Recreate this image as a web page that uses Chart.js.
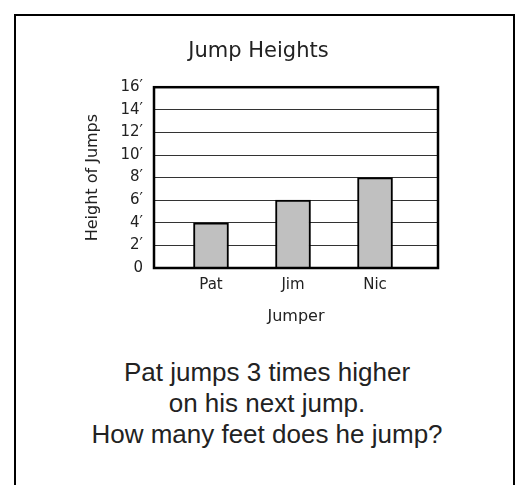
<!DOCTYPE html>
<html>
<head>
<meta charset="utf-8">
<script src="https://cdn.jsdelivr.net/npm/chart.js@4.4.0/dist/chart.umd.min.js"></script>
<style>
  html, body { margin: 0; padding: 0; background: #fff; }
  body { width: 519px; height: 485px; position: relative; overflow: hidden; }
  #frame {
    position: absolute; left: 14px; top: 14px; width: 501px; height: 500px;
    border: 2px solid #000; box-sizing: border-box;
  }
  #wrap { position: absolute; left: 0; top: 0; width: 519px; height: 340px; }
  #question {
    position: absolute; left: 0; width: 534px; top: 357px;
    text-align: center; font-family: "Liberation Sans", Arial, sans-serif;
    font-size: 26px; line-height: 31px; color: #222;
  }
</style>
</head>
<body>
<div id="frame"></div>
<div id="wrap"><canvas id="chart"></canvas></div>
<div id="question">Pat jumps 3 times higher<br>on his next jump.<br>How many feet does he jump?</div>
<script>
// Chart data
const jumpers = ["Pat", "Jim", "Nic"]
const heights = [4, 6, 8]
const yTicks = [0, 2, 4, 6, 8, 10, 12, 14, 16]

const textColor = "#222"
const font = "'DejaVu Sans', Verdana, sans-serif"

// Draw the heavy box around the plot area
const plotBox = {
  id: "plotBox",
  afterDraw(chart) {
    const { ctx, chartArea: a } = chart
    ctx.save()
    ctx.strokeStyle = "#000"
    ctx.lineWidth = 2.5
    ctx.strokeRect(a.left, a.top, a.right - a.left, a.bottom - a.top)
    ctx.restore()
  },
}

const ctx = document.getElementById("chart").getContext("2d")

new Chart(ctx, {
  type: "bar",
  data: {
    datasets: [
      {
        data: heights.map((h, i) => ({ x: i + 1, y: h })),
        backgroundColor: "#c0c0c0",
        borderColor: "#000",
        borderWidth: 2,
        barThickness: 35,
      },
    ],
  },
  options: {
    responsive: true,
    maintainAspectRatio: false,
    animation: false,
    layout: { padding: { left: 79, right: 81, top: 39, bottom: 8 } },
    plugins: {
      legend: { display: false },
      tooltip: { enabled: false },
      title: {
        display: true,
        text: "Jump Heights",
        color: textColor,
        font: { family: font, size: 21, weight: "normal" },
        padding: { top: 0, bottom: 23 },
      },
    },
    scales: {
      x: {
        type: "linear",
        offset: false,
        min: 0.305,
        max: 3.768,
        afterBuildTicks: (scale) => {
          scale.ticks = jumpers.map((_, i) => ({ value: i + 1 }))
        },
        afterFit: (scale) => {
          scale.height = 64
        },
        grid: { display: false, drawTicks: false },
        border: { display: false },
        ticks: {
          color: textColor,
          font: { family: font, size: 15 },
          padding: 8,
          callback: (v) => jumpers[v - 1],
        },
        title: {
          display: true,
          text: "Jumper",
          color: textColor,
          font: { family: font, size: 16 },
          padding: { top: 4, bottom: 6 },
        },
      },
      y: {
        min: 0,
        max: 16,
        afterBuildTicks: (scale) => {
          scale.ticks = yTicks.map((v) => ({ value: v }))
        },
        afterFit: (scale) => {
          scale.width = 75
        },
        grid: { color: "#333", lineWidth: 1, drawTicks: false },
        border: { display: false },
        ticks: {
          color: textColor,
          font: { family: font, size: 15 },
          padding: 11,
          callback: (v) => (v === 0 ? "0" : v + "\u2032"),
        },
        title: {
          display: true,
          text: "Height of Jumps",
          color: textColor,
          font: { family: font, size: 16 },
          padding: { top: 4, bottom: 0 },
        },
      },
    },
  },
  plugins: [plotBox],
})
</script>
</body>
</html>
